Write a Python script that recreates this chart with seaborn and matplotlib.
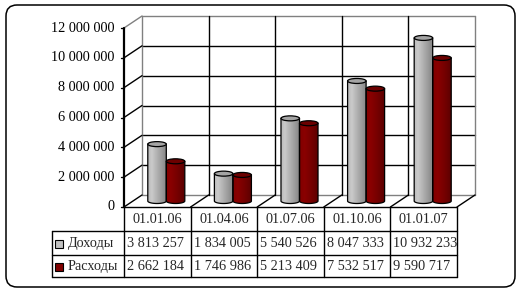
import numpy as np
import pandas as pd
import matplotlib
matplotlib.use("Agg")
import matplotlib.pyplot as plt
import seaborn as sns
from matplotlib.transforms import Affine2D, blended_transform_factory
from matplotlib.patches import Ellipse, PathPatch, Rectangle, FancyBboxPatch
from matplotlib.path import Path
from matplotlib.lines import Line2D
from matplotlib.colors import LinearSegmentedColormap, to_hex

# ---------------- data ----------------
categories = ["01.01.06", "01.04.06", "01.07.06", "01.10.06", "01.01.07"]
income = [3813257, 1834005, 5540526, 8047333, 10932233]
expenses = [2662184, 1746986, 5213409, 7532517, 9590717]
series_names = ["Доходы", "Расходы"]
y_ticks = [0, 2000000, 4000000, 6000000, 8000000, 10000000, 12000000]


def fmt(v):
    return f"{int(v):,}".replace(",", " ")


sns.set_theme(style="white")
plt.rcParams['font.family'] = ['Liberation Serif', 'DejaVu Serif']
FS = 10.3

W, H = 522, 294
fig = plt.figure(figsize=(W / 100, H / 100), dpi=100)
fig.patch.set_facecolor("white")

ov = fig.add_axes([0, 0, 1, 1])
ov.set_xlim(0, W)
ov.set_ylim(H, 0)
ov.axis("off")

ax = fig.add_axes([133 / W, 93 / H, 333 / W, 179 / H])

base_colors = {"Доходы": "#c0c0c0", "Расходы": "#800000"}
df = pd.DataFrame({
    "cat": categories * 2,
    "value": income + expenses,
    "series": [series_names[0]] * len(categories) + [series_names[1]] * len(categories),
})
sns.barplot(data=df, x="cat", y="value", hue="series", order=categories,
            hue_order=series_names, palette=base_colors, saturation=1, width=0.556,
            dodge=True, errorbar=None, legend=False, ax=ax)
ax.set_xlim(-0.5, len(categories) - 0.5)
ax.set_ylim(0, 12000000)
ax.axis("off")

# pixel -> data unit conversions (layout)
px_x = (len(categories)) / (333)          # data x per pixel
px_y = 12000000 / 179                     # data y per pixel
ox, oy = 9 * px_x, 6 * px_y              # half depth offset

xl, xr = -0.5, len(categories) - 0.5
ymax = y_ticks[-1]

# ---------- back wall ----------
GREY = "#808080"
for t in y_ticks[1:]:
    c = GREY if t == ymax else "black"
    ax.add_line(Line2D([xl + ox, xr + ox], [t + oy, t + oy], color=c, lw=1, zorder=1, clip_on=False))
ax.add_line(Line2D([xl + ox, xr + ox], [oy, oy], color=GREY, lw=1, zorder=1, clip_on=False))
for i in range(len(categories) + 1):
    x = xl + i
    c = GREY if i in (0, len(categories)) else "black"
    ax.add_line(Line2D([x + ox, x + ox], [oy, ymax + oy], color=c, lw=1, zorder=1, clip_on=False))
# left wall diagonals
for t in y_ticks:
    c = GREY if t == ymax else "black"
    ax.add_line(Line2D([xl - ox, xl + ox], [t - oy, t + oy], color=c, lw=1, zorder=1, clip_on=False))
# floor diagonals
for i in range(1, len(categories) + 1):
    x = xl + i
    ax.add_line(Line2D([x - ox, x + ox], [-oy, oy], color="black", lw=1, zorder=1, clip_on=False))
# front value axis
ax.add_line(Line2D([xl - ox, xl - ox], [-oy, ymax - oy], color="black", lw=1.6, zorder=5, clip_on=False))
for t in y_ticks:
    ax.add_line(Line2D([xl - ox - 3 * px_x, xl - ox], [t - oy, t - oy], color="black", lw=1, zorder=5, clip_on=False))
    ax.text(xl - ox - 10 * px_x, t - oy, fmt(t), ha="right", va="center",
            fontsize=FS, color="black", clip_on=False)

# ---------- cylinders ----------
cmaps = {
    "Доходы": LinearSegmentedColormap.from_list("g", [(0, "#bcbcbc"), (0.2, "#cacaca"), (0.55, "#ababab"), (1, "#858585")]),
    "Расходы": LinearSegmentedColormap.from_list("r", [(0, "#820000"), (0.25, "#8a0000"), (0.6, "#760000"), (1, "#5a0000")]),
}
tops = {"Доходы": "#a4a4a4", "Расходы": "#6c0000"}
color_to_series = {to_hex(c): s for s, c in base_colors.items()}

eh = 5 * px_y
grad = np.linspace(0, 1, 64)[np.newaxis, :]
for p in list(ax.patches):
    h = p.get_height()
    if not np.isfinite(h) or p.get_width() == 0:
        continue
    s = color_to_series.get(to_hex(p.get_facecolor()), series_names[0])
    x0, w = p.get_x(), p.get_width()
    x1, cx = x0 + w, x0 + w / 2
    p.set_visible(False)
    th = np.linspace(np.pi, 2 * np.pi, 40)
    verts = [(x0, h), (x0, 0)] + [(cx + w / 2 * np.cos(a), eh / 2 * np.sin(a)) for a in th] + [(x1, h), (x0, h)]
    codes = [Path.MOVETO] + [Path.LINETO] * (len(verts) - 2) + [Path.CLOSEPOLY]
    body = PathPatch(Path(verts, codes), facecolor="none", edgecolor="black", lw=0.9, zorder=4, clip_on=False)
    ax.add_patch(body)
    im = ax.imshow(grad, extent=(x0, x1, -eh / 2, h), aspect="auto", cmap=cmaps[s], zorder=3, interpolation="bilinear")
    im.set_clip_path(body)
    im.set_clip_box(fig.bbox)
    ax.add_patch(Ellipse((cx, h), w, eh, facecolor=tops[s], edgecolor="black", lw=0.9, zorder=5, clip_on=False))

ax.set_xlim(-0.5, len(categories) - 0.5)
ax.set_ylim(0, 12000000)

# ---------- data table ----------
trT = blended_transform_factory(ax.transData + Affine2D().translate(-9, 0), ov.transData)
r0, r1, r2, r3 = 207, 231, 255, 277
lab_left = xl - 72 * px_x
kw = dict(color="black", lw=1, transform=trT, clip_on=False, zorder=6)
ov.add_line(Line2D([xl, xr], [r0, r0], **kw))
for r in (r1, r2, r3):
    ov.add_line(Line2D([lab_left, xr], [r, r], **kw))
for i in range(len(categories) + 1):
    ov.add_line(Line2D([xl + i, xl + i], [r0, r3], **kw))
ov.add_line(Line2D([lab_left, lab_left], [r1, r3], **kw))

for i, c in enumerate(categories):
    ov.text(i, (r0 + r1) / 2 + 0.5, c, ha="center", va="center", fontsize=FS, transform=trT)
rows = [(series_names[0], income, (r1 + r2) / 2 + 0.5), (series_names[1], expenses, (r2 + r3) / 2 + 0.5)]
for name, vals, yc in rows:
    for i, v in enumerate(vals):
        ov.text(xl + i + 3 * px_x, yc, fmt(v), ha="left", va="center", fontsize=FS, transform=trT)
    ov.add_patch(Rectangle((lab_left + 3 * px_x, yc - 4), 8 * px_x, 8,
                           facecolor=base_colors[name], edgecolor="black", lw=0.8,
                           transform=trT, zorder=6))
    ov.text(lab_left + 16 * px_x, yc, name, ha="left", va="center", fontsize=FS, transform=trT)

# ---------- rounded frame ----------
ov.add_patch(FancyBboxPatch((6, 5), 509, 282, boxstyle="round,pad=0,rounding_size=11",
                            facecolor="none", edgecolor="black", lw=1.1, zorder=0))

fig.savefig("out.png", dpi=100, facecolor="white")
